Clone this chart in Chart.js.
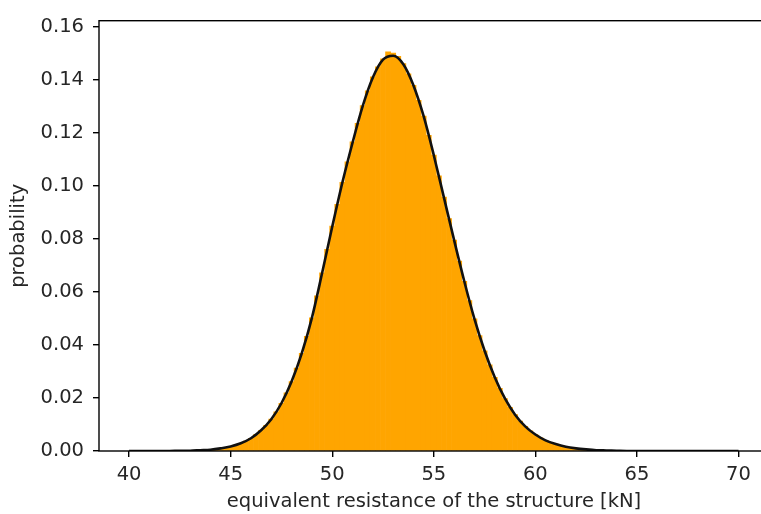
<!DOCTYPE html>
<html>
<head>
<meta charset="utf-8">
<script src="https://cdn.jsdelivr.net/npm/chart.js@4/dist/chart.umd.min.js"></script>
<style>
  html, body { margin: 0; padding: 0; background: #fff; overflow: hidden; }
  #wrap { width: 770px; height: 514px; }
</style>
</head>
<body>
<div id="wrap"><canvas id="c" width="770" height="514" style="width:770px;height:514px"></canvas></div>
<script>
// Histogram bins (bin centres, kN) and heights (probability density)
const binCenters = [
  43.0, 43.25, 43.5, 43.75, 44.0, 44.25, 44.5, 44.75, 45.0, 45.25, 45.5, 45.75,
  46.0, 46.25, 46.5, 46.75, 47.0, 47.25, 47.5, 47.75, 48.0, 48.25, 48.5, 48.75,
  49.0, 49.25, 49.5, 49.75, 50.0, 50.25, 50.5, 50.75, 51.0, 51.25, 51.5, 51.75,
  52.0, 52.25, 52.5, 52.75, 53.0, 53.25, 53.5, 53.75, 54.0, 54.25, 54.5, 54.75,
  55.0, 55.25, 55.5, 55.75, 56.0, 56.25, 56.5, 56.75, 57.0, 57.25, 57.5, 57.75,
  58.0, 58.25, 58.5, 58.75, 59.0, 59.25, 59.5, 59.75, 60.0, 60.25, 60.5, 60.75,
  61.0, 61.25, 61.5, 61.75, 62.0, 62.25, 62.5, 62.75, 63.0, 63.25, 63.5, 63.75, 64.0
];
const histValues = [
  0.0001, 0.0002, 0.0003, 0.0004, 0.0005, 0.0007, 0.0010, 0.0013, 0.0017, 0.0022, 0.0029, 0.0037,
  0.0048, 0.0062, 0.0078, 0.0097, 0.0120, 0.0148, 0.0180, 0.0219, 0.0262, 0.0313, 0.0368, 0.0432,
  0.0502, 0.0585, 0.0672, 0.0760, 0.0848, 0.0930, 0.1013, 0.1090, 0.1165, 0.1235, 0.1302, 0.1358,
  0.1410, 0.1448, 0.1478, 0.1505, 0.1500, 0.1488, 0.1460, 0.1422, 0.1378, 0.1322, 0.1262, 0.1190,
  0.1115, 0.1037, 0.0957, 0.0876, 0.0795, 0.0716, 0.0640, 0.0567, 0.0498, 0.0435, 0.0378, 0.0325,
  0.0278, 0.0236, 0.0198, 0.0165, 0.0137, 0.0113, 0.0093, 0.0076, 0.0062, 0.0050, 0.0040, 0.0032,
  0.0026, 0.0020, 0.0016, 0.0013, 0.0010, 0.0008, 0.0006, 0.0004, 0.0003, 0.0002, 0.0002, 0.0001, 0.0001
];

// Fitted density curve
const curveX = [
  40, 40.5, 41, 41.5, 42, 42.5, 43, 43.5, 44, 44.5, 45, 45.5, 46, 46.5, 47, 47.5,
  48, 48.5, 49, 49.5, 50, 50.5, 51, 51.5, 52, 52.5, 53, 53.5, 54, 54.5, 55, 55.5,
  56, 56.5, 57, 57.5, 58, 58.5, 59, 59.5, 60, 60.5, 61, 61.5, 62, 62.5, 63, 63.5,
  64, 64.5, 65, 65.5, 66, 66.5, 67, 67.5, 68, 68.5, 69, 69.5, 70
];
const curveY = [
  0, 0, 0, 0, 0, 0.0001, 0.0001, 0.0003, 0.0005, 0.0010, 0.0017, 0.0029, 0.0048, 0.0078, 0.0120, 0.0180,
  0.0262, 0.0368, 0.0502, 0.0670, 0.0845, 0.1012, 0.1162, 0.1300, 0.1408, 0.1475, 0.1490, 0.1458, 0.1378, 0.1262, 0.1115, 0.0955,
  0.0795, 0.0640, 0.0498, 0.0378, 0.0278, 0.0198, 0.0137, 0.0093, 0.0062, 0.0040, 0.0026, 0.0016, 0.0010, 0.0006, 0.0003, 0.0002,
  0.0001, 0, 0, 0, 0, 0, 0, 0, 0, 0, 0, 0, 0
];

const xTicks = [40, 45, 50, 55, 60, 65, 70];
const yTicks = [0.00, 0.02, 0.04, 0.06, 0.08, 0.10, 0.12, 0.14, 0.16];

const xLabel = 'equivalent resistance of the structure [kN]';
const yLabel = 'probability';

const FONT = 'DejaVu Sans';
const FS = 19.5;
const TXT = '#262626';

Chart.defaults.font.family = FONT;
Chart.defaults.font.size = FS;
Chart.defaults.color = TXT;

const framePlugin = {
  id: 'frame',
  afterDatasetsDraw(chart) {
    const { ctx, chartArea: a } = chart;
    ctx.save();
    ctx.strokeStyle = '#000';
    ctx.lineWidth = 1.4;
    ctx.strokeRect(a.left, a.top, a.right - a.left, a.bottom - a.top);
    ctx.restore();
  }
};

new Chart(document.getElementById('c'), {
  type: 'bar',
  data: {
    datasets: [
      {
        type: 'line',
        data: curveX.map((x, i) => ({ x, y: curveY[i] })),
        borderColor: '#111',
        borderWidth: 2.6,
        pointRadius: 0,
        cubicInterpolationMode: 'monotone',
        fill: false,
        order: 0
      },
      {
        type: 'bar',
        data: binCenters.map((x, i) => ({ x, y: histValues[i] })),
        backgroundColor: '#FFA500',
        borderWidth: 0,
        barPercentage: 1.0,
        categoryPercentage: 1.0,
        grouped: false,
        order: 1
      }
    ]
  },
  options: {
    responsive: false,
    animation: false,
    devicePixelRatio: 1,
    layout: { padding: { top: 15, right: 1, left: 0, bottom: 0 } },
    plugins: { legend: { display: false }, tooltip: { enabled: false } },
    scales: {
      x: {
        type: 'linear',
        min: 38.52,
        max: 71.5,
        offset: false,
        afterFit(s) { s.height = 63; },
        afterBuildTicks(s) { s.ticks = xTicks.map(v => ({ value: v })); },
        ticks: {
          includeBounds: false,
          padding: 6,
          maxRotation: 0,
          autoSkip: false,
          color: TXT,
          callback: v => String(v)
        },
        grid: { display: true, offset: false, drawOnChartArea: false, drawTicks: true, tickLength: 6, color: '#000', lineWidth: 1.4 },
        border: { display: false },
        title: { display: true, text: xLabel, color: TXT, padding: { top: 0, bottom: 0 } }
      },
      y: {
        type: 'linear',
        min: 0,
        max: 0.1622,
        afterFit(s) { s.width = 99; },
        afterBuildTicks(s) { s.ticks = yTicks.map(v => ({ value: v })); },
        ticks: {
          includeBounds: false,
          padding: 9,
          autoSkip: false,
          color: TXT,
          callback: v => Number(v).toFixed(2)
        },
        grid: { display: true, offset: false, drawOnChartArea: false, drawTicks: true, tickLength: 6, color: '#000', lineWidth: 1.4 },
        border: { display: false },
        title: { display: true, text: yLabel, color: TXT, padding: { top: 7, bottom: 0 } }
      }
    }
  },
  plugins: [framePlugin]
});
</script>
</body>
</html>
